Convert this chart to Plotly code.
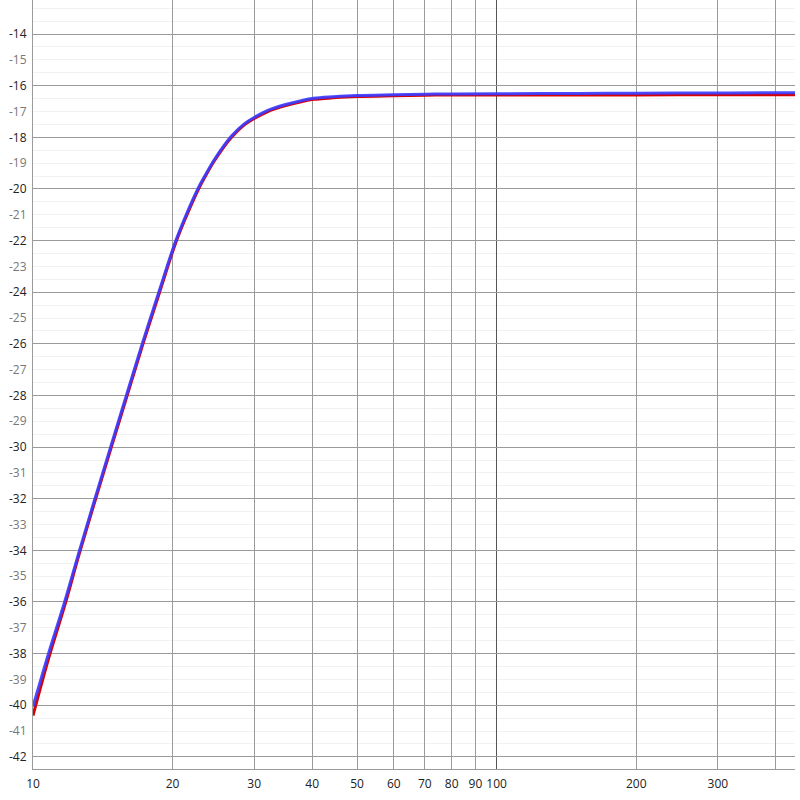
import numpy as np
import plotly.graph_objects as go

# частоты (Гц) и уровни (дБ)
freq = [10, 10.8, 11.7, 12.6, 13.6, 14.7, 15.9, 17.2, 18.7, 20.3, 21.4, 22.7, 23.5, 24.7, 26.8,
        28.6, 30, 32.1, 34.9, 37.9, 40.3, 44.4, 50, 60, 70, 80, 100, 150, 200, 300, 400, 445]
blue_db = [-40.05, -38.0, -36.0, -34.0, -32.0, -30.0, -28.0, -26.0, -23.97, -22.03, -21.0, -19.98,
           -19.48, -18.82, -17.95, -17.47, -17.23, -16.96, -16.74, -16.58, -16.49, -16.43, -16.38,
           -16.35, -16.33, -16.32, -16.31, -16.30, -16.29, -16.28, -16.27, -16.27]
red_db = [-40.4, -38.2, -36.15, -34.1, -32.1, -30.1, -28.1, -26.1, -24.07, -22.1, -21.07, -20.04,
          -19.53, -18.87, -18.0, -17.51, -17.27, -17.0, -16.78, -16.62, -16.53, -16.47, -16.42,
          -16.39, -16.37, -16.36, -16.36, -16.36, -16.36, -16.35, -16.35, -16.35]

x_ticks = [10, 20, 30, 40, 50, 60, 70, 80, 90, 100, 200, 300, 400]
x_labels = ['10', '20', '30', '40', '50', '60', '70', '80', '90', '100', '200', '300', '']
y_ticks = list(range(-42, -13))

x_range = [1, np.log10(440)]
y_range = [-42.47, -12.68]

# нечётные подписи по оси Y светлее
y_labels = [str(v) if v % 2 == 0 else f"<span style='color:#777'>{v}</span>" for v in y_ticks]

fig = go.Figure()
fig.add_trace(go.Scatter(x=freq, y=red_db, mode='lines',
                         line=dict(color='#d90000', width=3, shape='spline', smoothing=1.0),
                         xaxis='x', yaxis='y', hoverinfo='skip'))
fig.add_trace(go.Scatter(x=freq, y=blue_db, mode='lines',
                         line=dict(color='rgba(60,60,255,0.92)', width=3, shape='spline', smoothing=1.0),
                         xaxis='x2', yaxis='y2', hoverinfo='skip'))

fig.update_layout(
    width=800, height=800,
    margin=dict(l=33, r=5, t=0, b=31, autoexpand=False),
    paper_bgcolor='white', plot_bgcolor='white',
    showlegend=False,
    font=dict(family='Open Sans, Noto Sans, sans-serif', size=12, color='#222'),
    xaxis=dict(type='log', range=x_range, tickmode='array', tickvals=x_ticks, ticktext=x_labels,
               showgrid=True, gridcolor='#9a9a9a', gridwidth=1, zeroline=False, automargin=False,
               showline=True, linecolor='#9a9a9a', linewidth=1, ticks='', ticklabelstandoff=4),
    xaxis2=dict(type='log', range=x_range, overlaying='x', tickmode='array', tickvals=[100],
                showticklabels=False, showgrid=True, gridcolor='#555', gridwidth=1,
                zeroline=False, showline=False, ticks=''),
    yaxis=dict(range=y_range, tickmode='array', tickvals=y_ticks, ticktext=y_labels,
               showgrid=False, zeroline=False, showline=True, linecolor='#9a9a9a', linewidth=1,
               ticks='', ticklabelstandoff=3, automargin=False,
               minor=dict(dtick=0.5, showgrid=True, gridcolor='#f2f2f2', gridwidth=1)),
    yaxis2=dict(range=y_range, overlaying='y', anchor='x', tickmode='linear', tick0=-42, dtick=2,
                showticklabels=False, showgrid=True, gridcolor='#9a9a9a', gridwidth=1,
                zeroline=False, showline=False, ticks=''),
)

# убираем отступ страницы, чтобы график стоял в углу окна
fig.write_html("out.html", config={'displayModeBar': False},
               post_script="document.body.style.margin='0';")
